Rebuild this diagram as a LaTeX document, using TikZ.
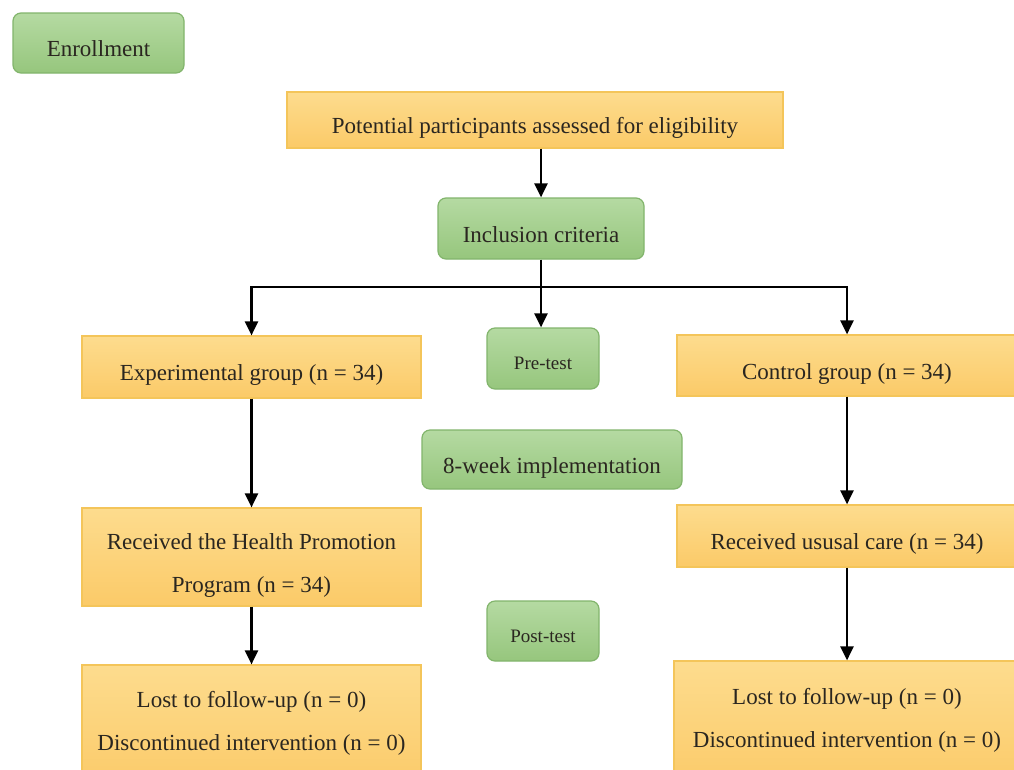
\documentclass[tikz,border=0pt]{standalone}
\usepackage{fontspec}
\setmainfont{Liberation Serif}
\usetikzlibrary{arrows.meta,calc}
\definecolor{orfillT}{HTML}{FDDC8E}
\definecolor{orfillB}{HTML}{FBCA68}
\definecolor{ordraw}{HTML}{F4C55A}
\definecolor{grfillT}{HTML}{B5DAA2}
\definecolor{grfillB}{HTML}{96C67D}
\definecolor{grdraw}{HTML}{82B56C}
\definecolor{txt}{HTML}{2A2620}
\newcommand{\twolines}[4]{\raisebox{0pt}[#3pt][#4pt]{\begin{tabular}[b]{@{}c@{}}#1\\[15.4pt]#2\end{tabular}}}
\tikzset{
  obox/.style={draw=ordraw, line width=1.2pt, top color=orfillT, bottom color=orfillB,
     minimum width=#1, inner sep=0pt, text=txt, font=\fontsize{23}{27.6}\selectfont},
  gbox/.style={draw=grdraw, line width=1.2pt, rounded corners=8pt, top color=grfillT, bottom color=grfillB,
     minimum width=#1, inner sep=0pt, text=txt, font=\fontsize{23}{27.6}\selectfont},
  oneline/.style={text height=32pt, text depth=5pt},
  small/.style={font=\fontsize{19}{23}\selectfont, text height=26pt, text depth=4pt},
  arr/.style={line width=2.4pt, -{Triangle[length=14pt,width=13pt]}},
  ln/.style={line width=2.4pt}
}
\begin{document}
\begin{tikzpicture}[x=1pt,y=-1pt]
\useasboundingbox (0,0) rectangle (1014,769);
\fill[white] (0,0) rectangle (1014,769);
\node[gbox=171pt, minimum height=60pt, oneline] (enroll) at (98.5,43) {Enrollment};
\node[obox=496pt, minimum height=56pt, oneline] (pot) at (535,120) {Potential participants assessed for eligibility};
\node[gbox=206pt, minimum height=61pt, oneline] (incl) at (541,228.5) {Inclusion criteria};
\node[obox=339pt, minimum height=62pt, oneline] (exp) at (251.5,367) {Experimental group (n = 34)};
\node[gbox=112pt, minimum height=61pt, small] (pre) at (543,358.5) {Pre-test};
\node[obox=340pt, minimum height=61pt, oneline] (ctrl) at (847,365.5) {Control group (n = 34)};
\node[gbox=260pt, minimum height=59pt, oneline] (week) at (552,459.5) {8-week implementation};
\node[obox=339pt, minimum height=98pt] (recv) at (251.5,557) {\twolines{Received the Health Promotion}{Program (n = 34)}{72}{2}};
\node[obox=340pt, minimum height=62pt, oneline] (usual) at (847,536) {Received ususal care (n = 34)};
\node[gbox=112pt, minimum height=60pt, small] (post) at (543,631) {Post-test};
\node[obox=339pt, minimum height=125pt] (lostL) at (251.5,727.5) {\twolines{Lost to follow-up (n = 0)}{Discontinued intervention (n = 0)}{47}{2}};
\node[obox=346pt, minimum height=129pt] (lostR) at (847,725.5) {\twolines{Lost to follow-up (n = 0)}{Discontinued intervention (n = 0)}{45}{2}};
\coordinate (bus) at (541,287);
\draw[arr] (incl |- pot.south) -- (incl.north);
\draw[ln] (incl.south) -- (bus);
\draw[arr] (bus) -- (bus |- pre.north);
\draw[arr] (bus) -| (exp.north);
\draw[arr] (bus) -| (ctrl.north);
\draw[arr] (exp.south) -- (recv.north);
\draw[arr] (recv.south) -- (lostL.north);
\draw[arr] (ctrl.south) -- (usual.north);
\draw[arr] (usual.south) -- (lostR.north);
\end{tikzpicture}
\end{document}
